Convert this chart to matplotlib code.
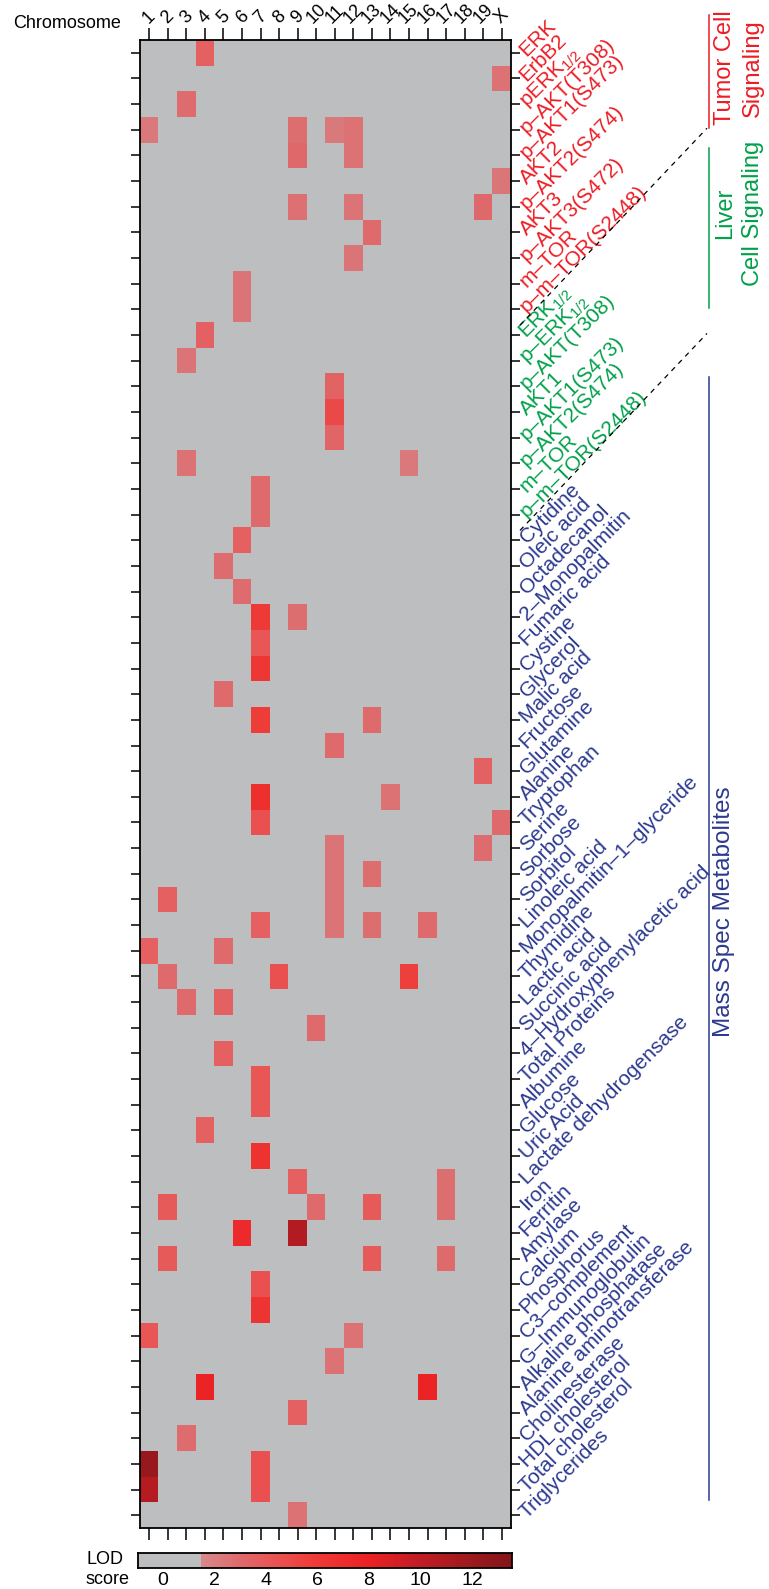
import numpy as np
import matplotlib.pyplot as plt
from matplotlib.colors import LinearSegmentedColormap, Normalize
from matplotlib.lines import Line2D

plt.rcParams['font.family'] = ['Liberation Sans', 'DejaVu Sans']
plt.rcParams['mathtext.fontset'] = 'custom'
plt.rcParams['mathtext.rm'] = 'Liberation Sans'
plt.rcParams['mathtext.default'] = 'rm'

# chromosomes along the top
chromosomes = [str(i) for i in range(1, 20)] + ['X']

# traits, grouped
tumor_traits = ['ERK', 'ErbB2', 'pERK$_{1/2}$', 'p–AKT(T308)', 'p–AKT1(S473)',
                'AKT2', 'p–AKT2(S474)', 'AKT3', 'p–AKT3(S472)', 'm–TOR',
                'p–m–TOR(S2448)']
liver_traits = ['ERK$_{1/2}$', 'p–ERK$_{1/2}$', 'p–AKT(T308)', 'AKT1',
                'p–AKT1(S473)', 'p–AKT2(S474)', 'm–TOR', 'p–m–TOR(S2448)']
metabolites = ['Cytidine', 'Oleic acid', 'Octadecanol', '2–Monopalmitin',
               'Fumaric acid', 'Cystine', 'Glycerol', 'Malic acid', 'Fructose',
               'Glutamine', 'Alanine', 'Tryptophan', 'Serine', 'Sorbose',
               'Sorbitol', 'Linoleic acid', 'Monopalmitin–1–glyceride',
               'Thymidine', 'Lactic acid', 'Succinic acid',
               '4–Hydroxyphenylacetic acid', 'Total Proteins', 'Albumine',
               'Glucose', 'Uric Acid', 'Lactate dehydrogensase', 'Iron',
               'Ferritin', 'Amylase', 'Calcium', 'Phosphorus', 'C3–complement',
               'G–Immunoglobulin', 'Alkaline phosphatase',
               'Alanine aminotransferase', 'Cholinesterase', 'HDL cholesterol',
               'Total cholesterol', 'Triglycerides']

# significant QTL: (trait, chromosome, LOD)
tumor_hits = [('ERK', '4', 3.6), ('ErbB2', 'X', 2.6), ('pERK$_{1/2}$', '3', 2.9),
              ('p–AKT(T308)', '1', 2.3), ('p–AKT(T308)', '9', 2.8),
              ('p–AKT(T308)', '11', 2.3), ('p–AKT(T308)', '12', 2.6),
              ('p–AKT1(S473)', '9', 3.1), ('p–AKT1(S473)', '12', 2.6),
              ('AKT2', 'X', 2.4), ('p–AKT2(S474)', '9', 2.7),
              ('p–AKT2(S474)', '12', 2.5), ('p–AKT2(S474)', '19', 3.1),
              ('AKT3', '13', 3.0), ('p–AKT3(S472)', '12', 2.5),
              ('m–TOR', '6', 2.5), ('p–m–TOR(S2448)', '6', 2.5)]
liver_hits = [('ERK$_{1/2}$', '4', 3.5), ('p–ERK$_{1/2}$', '3', 2.5),
              ('p–AKT(T308)', '11', 3.4), ('AKT1', '11', 5.0),
              ('p–AKT1(S473)', '11', 3.3), ('p–AKT2(S474)', '3', 2.6),
              ('p–AKT2(S474)', '15', 2.3), ('m–TOR', '7', 3.0),
              ('p–m–TOR(S2448)', '7', 3.0)]
metabolite_hits = [('Cytidine', '6', 3.6), ('Oleic acid', '5', 2.9),
                   ('Octadecanol', '6', 2.9), ('2–Monopalmitin', '7', 6.0),
                   ('2–Monopalmitin', '9', 2.8), ('Fumaric acid', '7', 4.2),
                   ('Cystine', '7', 6.2), ('Glycerol', '5', 3.0),
                   ('Malic acid', '7', 5.8), ('Malic acid', '13', 3.0),
                   ('Fructose', '11', 3.0), ('Glutamine', '19', 3.5),
                   ('Alanine', '7', 6.8), ('Alanine', '14', 2.6),
                   ('Tryptophan', '7', 4.6), ('Tryptophan', 'X', 3.0),
                   ('Serine', '19', 2.9), ('Serine', '11', 2.5),
                   ('Sorbose', '11', 2.5), ('Sorbose', '13', 2.8),
                   ('Sorbitol', '2', 3.6), ('Sorbitol', '11', 2.5),
                   ('Linoleic acid', '7', 3.6), ('Linoleic acid', '11', 2.5),
                   ('Linoleic acid', '13', 2.8), ('Linoleic acid', '16', 3.0),
                   ('Monopalmitin–1–glyceride', '1', 3.6),
                   ('Monopalmitin–1–glyceride', '5', 3.0),
                   ('Thymidine', '2', 3.0), ('Thymidine', '8', 4.6),
                   ('Thymidine', '15', 5.6), ('Lactic acid', '3', 3.0),
                   ('Lactic acid', '5', 3.5), ('Succinic acid', '10', 3.0),
                   ('4–Hydroxyphenylacetic acid', '5', 3.6),
                   ('Total Proteins', '7', 4.2), ('Albumine', '7', 4.2),
                   ('Glucose', '4', 3.6), ('Uric Acid', '7', 6.6),
                   ('Lactate dehydrogensase', '9', 3.6),
                   ('Lactate dehydrogensase', '17', 2.8),
                   ('Iron', '2', 4.0), ('Iron', '10', 3.0), ('Iron', '13', 4.0),
                   ('Iron', '17', 2.8), ('Ferritin', '6', 7.2),
                   ('Ferritin', '9', 10.8), ('Amylase', '2', 4.0),
                   ('Amylase', '13', 4.0), ('Amylase', '17', 3.0),
                   ('Calcium', '7', 4.6), ('Phosphorus', '7', 6.4),
                   ('C3–complement', '1', 4.2), ('C3–complement', '12', 2.6),
                   ('G–Immunoglobulin', '11', 2.6),
                   ('Alkaline phosphatase', '4', 7.8),
                   ('Alkaline phosphatase', '16', 7.8),
                   ('Alanine aminotransferase', '9', 3.6),
                   ('Cholinesterase', '3', 2.9), ('HDL cholesterol', '1', 12.2),
                   ('HDL cholesterol', '7', 4.6), ('Total cholesterol', '1', 10.6),
                   ('Total cholesterol', '7', 4.6), ('Triglycerides', '9', 2.6)]

lod_ticks = [0, 2, 4, 6, 8, 10, 12]
lod_min, lod_max, lod_cut = -0.95, 13.55, 1.5

red = '#ec1c24'
green = '#00a04a'
blue = '#2b3990'
gray = '#bdbec0'

# matrix of LOD scores, rows = traits in group order
groups = [(tumor_traits, tumor_hits, red),
          (liver_traits, liver_hits, green),
          (metabolites, metabolite_hits, blue)]
traits, colors = [], []
lod = np.zeros((len(tumor_traits) + len(liver_traits) + len(metabolites),
                len(chromosomes)))
for names, hits, col in groups:
    offset = len(traits)
    for name, chrom, val in hits:
        lod[offset + names.index(name), chromosomes.index(chrom)] = val
    traits += names
    colors += [col] * len(names)

# gray below the cut, then red ramp
def pos(v):
    return (v - lod_min) / (lod_max - lod_min)

cmap = LinearSegmentedColormap.from_list('lod', [
    (0.0, gray), (pos(lod_cut), gray), (pos(lod_cut) + 1e-4, '#d68a8c'),
    (pos(3), '#df6a6c'), (pos(4), '#e85a5a'), (pos(6), '#ef3a36'),
    (pos(8), '#ec2124'), (pos(10), '#c11d24'), (pos(12), '#9c1a1e'),
    (1.0, '#85151a')], N=1024)
norm = Normalize(lod_min, lod_max)

W, H = 769, 1589
fig = plt.figure(figsize=(W / 100, H / 100), dpi=100)


def fx(x):
    return x / W


def fy(y):
    return 1 - y / H


left, right, top, bottom = 140, 511, 40, 1528
ax = fig.add_axes([fx(left), fy(bottom), (right - left) / W, (bottom - top) / H])
ax.imshow(lod, cmap=cmap, norm=norm, aspect='auto', interpolation='nearest')

ax.set_xticks(range(len(chromosomes)))
ax.set_xticklabels(chromosomes, rotation=45, ha='center', va='bottom', fontsize=13)
ax.tick_params(axis='x', top=True, bottom=True, labeltop=True, labelbottom=False,
               length=8.6, width=1.1, pad=1)
ax.set_yticks(range(len(traits)))
ax.set_yticklabels(traits, rotation=45, rotation_mode='anchor', ha='left',
                   va='center', fontsize=15)
ax.tick_params(axis='y', left=True, right=True, labelleft=False, labelright=True,
               length=6.5, width=1.1, pad=2)
for tick, col in zip(ax.yaxis.get_major_ticks(), colors):
    tick.label2.set_color(col)
for sp in ax.spines.values():
    sp.set_linewidth(1.3)

fig.text(fx(13), fy(24), 'Chromosome', fontsize=13, ha='left', va='center')

# group brackets
row_h = (bottom - top) / len(traits)
bx = 709
for y0, y1, col in [(15, 128, red), (148, 308, green), (377, 1500, blue)]:
    fig.add_artist(Line2D([fx(bx), fx(bx)], [fy(y0), fy(y1)], color=col, lw=1.1))

# dashed separators between the slanted label blocks
for n_rows in [len(tumor_traits), len(tumor_traits) + len(liver_traits)]:
    yb = top + n_rows * row_h
    fig.add_artist(Line2D([fx(520), fx(707)], [fy(yb + 3), fy(yb - 194)],
                          color='black', lw=0.9, ls=(0, (4, 4))))

fig.text(fx(739), fy(68), 'Tumor Cell\nSignaling', rotation=90, color=red,
         fontsize=17, ha='center', va='center', multialignment='center',
         linespacing=1.35)
fig.text(fx(739), fy(213), 'Liver\nCell Signaling', rotation=90, color=green,
         fontsize=17, ha='center', va='center', multialignment='center',
         linespacing=1.35)
fig.text(fx(724), fy(912), 'Mass Spec Metabolites', rotation=90, color=blue,
         fontsize=17.5, ha='center', va='center')

# colour key
cax = fig.add_axes([fx(138), fy(1568), 374 / W, 15 / H])
grad = np.linspace(lod_min, lod_max, 800)[None, :]
cax.imshow(grad, cmap=cmap, norm=norm, aspect='auto',
           extent=[lod_min, lod_max, 0, 1], interpolation='nearest')
cax.set_xticks(lod_ticks)
cax.set_yticks([])
cax.tick_params(axis='x', length=0, labelsize=14, pad=3)
for sp in cax.spines.values():
    sp.set_linewidth(1.3)
fig.text(fx(86), fy(1560), 'LOD', fontsize=13, ha='left', va='center')
fig.text(fx(86), fy(1580), 'score', fontsize=13, ha='left', va='center')

fig.savefig('out.png', dpi=100)
